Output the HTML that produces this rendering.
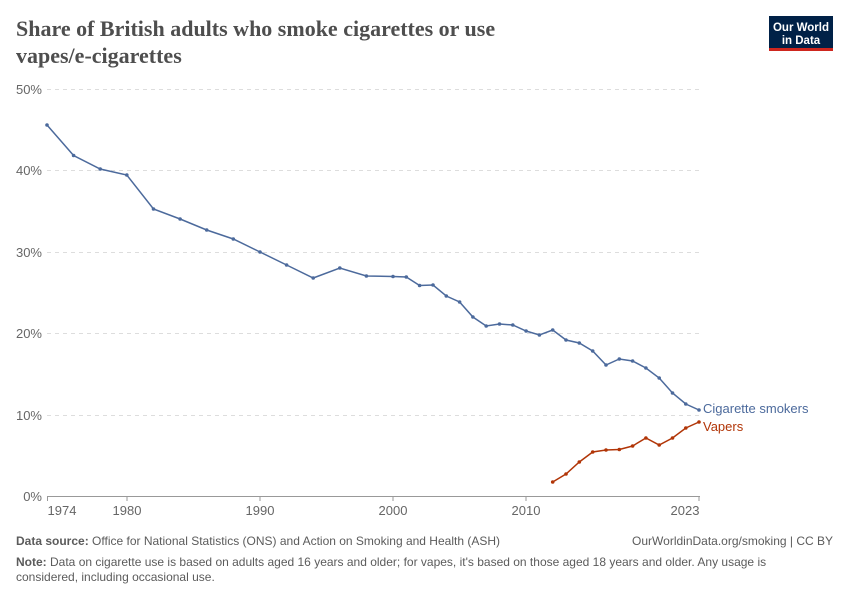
<!DOCTYPE html>
<html><head><meta charset="utf-8"><style>
body{margin:0;background:#fff;width:850px;height:600px;overflow:hidden}
svg text{font-family:"Liberation Sans",sans-serif}
</style></head><body>
<svg width="850" height="600" xmlns="http://www.w3.org/2000/svg">
<text x="16" y="36" font-size="22" font-weight="bold" fill="#4e4e4e" style="font-family:'Liberation Serif',serif">Share of British adults who smoke cigarettes or use</text>
<text x="16" y="63" font-size="22" font-weight="bold" fill="#4e4e4e" style="font-family:'Liberation Serif',serif">vapes/e-cigarettes</text>
<rect x="769" y="16" width="64" height="34" fill="#002147"/>
<rect x="769" y="48" width="64" height="3" fill="#ce261e"/>
<text x="801" y="31" font-size="11.5" fill="#fff" text-anchor="middle" font-weight="bold">Our World</text>
<text x="801" y="44" font-size="11.5" fill="#fff" text-anchor="middle" font-weight="bold">in Data</text>
<g stroke="#ddd" stroke-dasharray="4,4" stroke-width="1">
<line x1="47" x2="700" y1="89.5" y2="89.5"/>
<line x1="47" x2="700" y1="170.5" y2="170.5"/>
<line x1="47" x2="700" y1="252.5" y2="252.5"/>
<line x1="47" x2="700" y1="333.5" y2="333.5"/>
<line x1="47" x2="700" y1="415.5" y2="415.5"/>
</g>
<g font-size="13" fill="#666" text-anchor="end">
<text x="42" y="94">50%</text><text x="42" y="175">40%</text><text x="42" y="257">30%</text>
<text x="42" y="338">20%</text><text x="42" y="420">10%</text><text x="42" y="501">0%</text>
</g>
<line x1="47" x2="700" y1="496.5" y2="496.5" stroke="#999"/>
<g stroke="#999"><line x1="47.5" x2="47.5" y1="496" y2="501"/><line x1="127" x2="127" y1="496" y2="501"/><line x1="260" x2="260" y1="496" y2="501"/><line x1="393" x2="393" y1="496" y2="501"/><line x1="526" x2="526" y1="496" y2="501"/><line x1="699" x2="699" y1="496" y2="501"/></g>
<g font-size="13" fill="#666" text-anchor="middle">
<text x="62" y="515">1974</text><text x="127" y="515">1980</text><text x="260" y="515">1990</text><text x="393" y="515">2000</text><text x="526" y="515">2010</text><text x="685" y="515">2023</text>
</g>
<polyline fill="none" stroke="#4c6a9c" stroke-width="1.5" points="47,125 73.6,155.5 100.2,169 126.8,175 153.5,209 180.1,219 206.7,230 233.3,239 260,252 286.6,265 313.2,278 339.8,268 366.4,276 393,276.5 406.3,277 419.6,285.5 433,285 446.3,296 459.6,302 472.9,317 486.2,326 499.5,324 512.8,325 526.1,331 539.4,335 552.7,330 566,340 579.3,343 592.7,351 606,365 619.3,359 632.6,361 645.9,368 659.2,378 672.5,393 685.8,404 699,410"/>
<polyline fill="none" stroke="#b13507" stroke-width="1.5" points="552.7,482 566,474 579.3,462 592.7,452 606,450 619.3,449.5 632.6,446 645.9,438 659.2,445 672.5,438 685.8,428 699,422"/>
<text x="703" y="413" font-size="13" fill="#4c6a9c">Cigarette smokers</text>
<text x="703" y="431" font-size="13" fill="#b13507">Vapers</text>
<text x="16" y="545" font-size="12" fill="#5b5b5b"><tspan font-weight="bold">Data source:</tspan> Office for National Statistics (ONS) and Action on Smoking and Health (ASH)</text>
<text x="833" y="545" font-size="12" fill="#5b5b5b" text-anchor="end">OurWorldinData.org/smoking | CC BY</text>
<text x="16" y="566" font-size="12" fill="#5b5b5b"><tspan font-weight="bold">Note:</tspan> Data on cigarette use is based on adults aged 16 years and older; for vapes, it's based on those aged 18 years and older. Any usage is</text>
<text x="16" y="581" font-size="12" fill="#5b5b5b">considered, including occasional use.</text>
</svg>
<script>
(function(){var s=document.querySelector('svg');document.querySelectorAll('polyline').forEach(function(p){var c=p.getAttribute('stroke');p.getAttribute('points').split(' ').forEach(function(pt){var a=pt.split(',');var e=document.createElementNS('http://www.w3.org/2000/svg','circle');e.setAttribute('cx',a[0]);e.setAttribute('cy',a[1]);e.setAttribute('r','1.8');e.setAttribute('fill',c);s.appendChild(e);});});})();
</script>
</body></html>
